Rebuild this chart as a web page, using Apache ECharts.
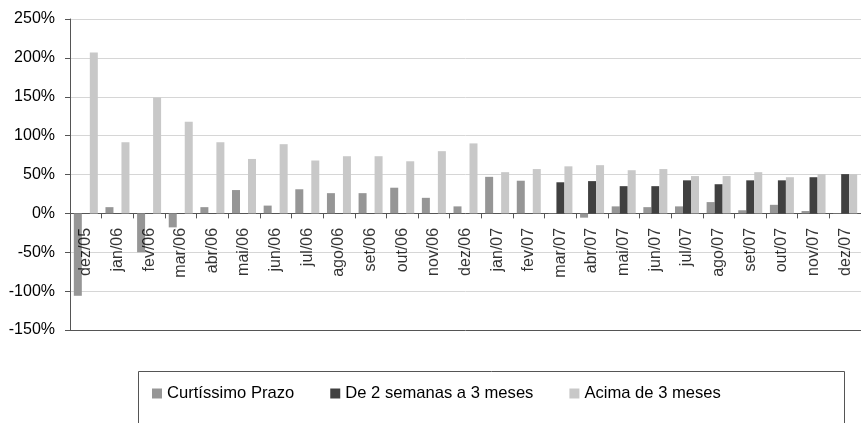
<!DOCTYPE html>
<html>
<head>
<meta charset="utf-8">
<script src="https://cdn.jsdelivr.net/npm/echarts@6/dist/echarts.min.js"></script>
<style>
html,body{margin:0;padding:0;background:#fff;}
#chart{width:861px;height:423px;}
</style>
</head>
<body>
<div id="chart"></div>
<script>
var categories = ['dez/05','jan/06','fev/06','mar/06','abr/06','mai/06','jun/06','jul/06','ago/06','set/06','out/06','nov/06','dez/06','jan/07','fev/07','mar/07','abr/07','mai/07','jun/07','jul/07','ago/07','set/07','out/07','nov/07','dez/07'];
var curtissimo = [-106, 8, -50, -18, 8, 30, 10, 31, 26, 26, 33, 20, 9, 47, 42, 0.5, -5.5, 9, 8, 9, 14.5, 4, 11, 3, -0.5];
var deDuasSemanas = [0, 0, 0, 0, 0, 0, 0, 0, 0, 0, 0, 0, 0, 0, 0, 40, 41.5, 35, 35, 42.5, 37.5, 42.5, 42.5, 46.5, 50.5];
var acima3Meses = [207, 91.5, 149, 118, 91.5, 70, 89, 68, 73.5, 73.5, 67, 80, 90, 53, 57, 60.5, 62, 55.5, 57, 48, 48, 53, 46.5, 50.5, 50.5];
var seriesNames = ['Curtíssimo Prazo', 'De 2 semanas a 3 meses', 'Acima de 3 meses'];
var yMin = -150, yMax = 250, yStep = 50;

var gridColors = [];
for (var v = yMin; v <= yMax; v += yStep) { gridColors.push(v === yMin ? '#555' : '#d6d6d6'); }
var labelPoints = categories.map(function (c) { return [c, 0]; });

var chart = echarts.init(document.getElementById('chart'));
var font = 'Liberation Sans, Arial, sans-serif';
chart.setOption({
  animation: false,
  backgroundColor: '#fff',
  grid: { left: 70, top: 19, bottom: 93, right: -8, containLabel: false },
  legend: {
    data: seriesNames,
    left: 152, top: 385, padding: 0,
    itemWidth: 10, itemHeight: 10, itemGap: 36,
    textStyle: { fontFamily: font, fontSize: 16.6, color: '#000' },
    icon: 'rect'
  },
  graphic: [{
    type: 'rect', left: 136, top: 369,
    shape: { width: 706, height: 70 },
    style: { fill: 'none', stroke: '#555', lineWidth: 1 }
  }],
  xAxis: {
    type: 'category', data: categories,
    axisLine: { onZero: true, lineStyle: { color: '#555', width: 1 } },
    axisTick: { show: true, interval: 0, length: 5, lineStyle: { color: '#555' } },
    axisLabel: { show: false, interval: 0 },
    splitLine: { show: false }
  },
  yAxis: {
    type: 'value', min: yMin, max: yMax, interval: yStep,
    axisLine: { show: true, lineStyle: { color: '#555', width: 1 } },
    axisTick: { show: true, length: 5, lineStyle: { color: '#555' } },
    axisLabel: { formatter: '{value}%', margin: 15, fontFamily: font, fontSize: 16, color: '#000' },
    splitLine: { show: true, lineStyle: { color: gridColors, width: 1 } }
  },
  series: [
    { name: seriesNames[0], type: 'bar', data: curtissimo, barWidth: 8, barGap: '0%', itemStyle: { color: '#969696' } },
    { name: seriesNames[1], type: 'bar', data: deDuasSemanas, barWidth: 8, barGap: '0%', itemStyle: { color: '#404040' } },
    { name: seriesNames[2], type: 'bar', data: acima3Meses, barWidth: 8, barGap: '0%', itemStyle: { color: '#c8c8c8' } },
    {
      name: 'labels', type: 'scatter', data: labelPoints, symbolSize: 1, silent: true, z: 5,
      itemStyle: { color: 'rgba(0,0,0,0)' },
      labelLayout: { hideOverlap: false },
      label: {
        show: true, position: [0.5, 15], rotate: 90, align: 'right', verticalAlign: 'middle',
        fontFamily: font, fontSize: 16, color: '#000',
        formatter: function (p) { return p.value[0]; }
      }
    }
  ]
});
</script>
</body>
</html>
